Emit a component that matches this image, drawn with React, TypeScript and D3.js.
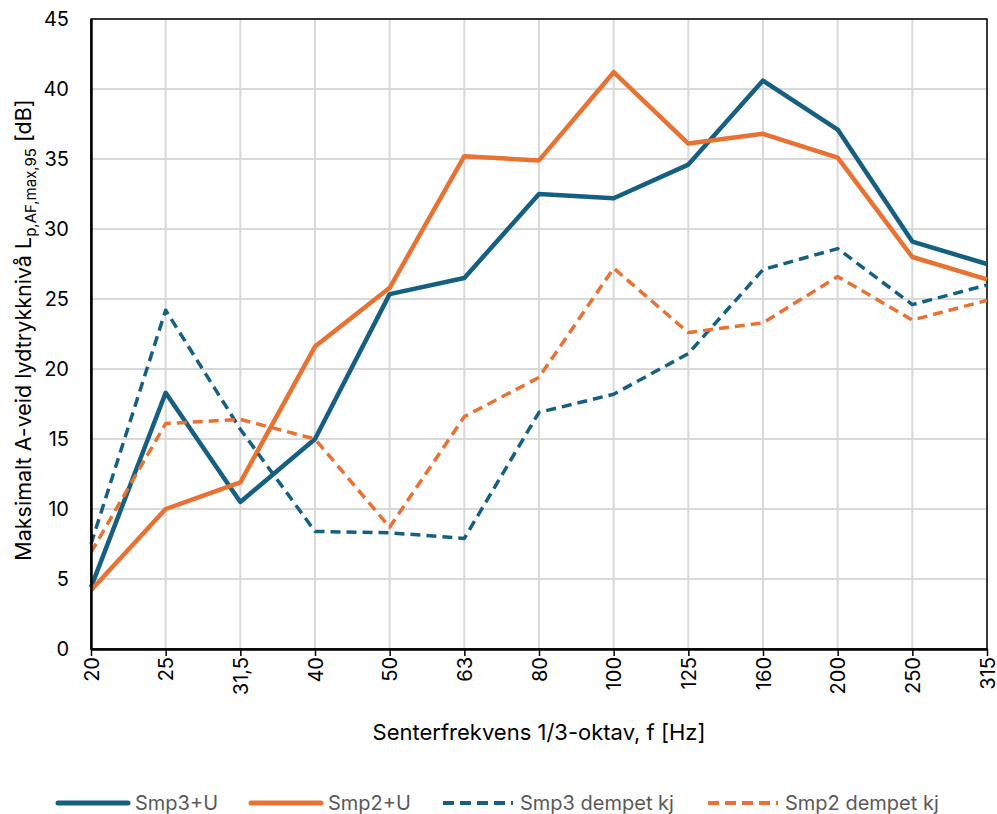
import React, { useEffect, useRef } from 'react';
import * as d3 from 'd3';

// Tersfrekvenser (Hz)
const categories = ['20', '25', '31,5', '40', '50', '63', '80', '100', '125', '160', '200', '250', '315'];

// Måleserier [dB]
const smp3U = [4.4, 18.3, 10.5, 15.0, 25.35, 26.5, 32.5, 32.2, 34.6, 40.6, 37.1, 29.1, 27.5];
const smp2U = [4.2, 10.0, 11.9, 21.6, 25.8, 35.2, 34.9, 41.2, 36.1, 36.8, 35.1, 28.0, 26.4];
const smp3Dempet = [7.5, 24.2, 15.7, 8.4, 8.3, 7.9, 16.9, 18.2, 21.1, 27.1, 28.6, 24.6, 26.0];
const smp2Dempet = [6.9, 16.1, 16.4, 15.0, 8.7, 16.6, 19.4, 27.2, 22.6, 23.3, 26.6, 23.5, 24.9];

const yTicks = [0, 5, 10, 15, 20, 25, 30, 35, 40, 45];

const series = [
  { name: 'Smp3+U', values: smp3U, color: '#156082', dashed: false },
  { name: 'Smp2+U', values: smp2U, color: '#E97132', dashed: false },
  { name: 'Smp3 dempet kj', values: smp3Dempet, color: '#156082', dashed: true },
  { name: 'Smp2 dempet kj', values: smp2Dempet, color: '#E97132', dashed: true },
];

const font = 'Inter, "Liberation Sans", sans-serif';

const App = () => {
  const ref = useRef<SVGSVGElement>(null);

  useEffect(() => {
    const width = 997;
    const height = 814;
    const left = 91, right = 987, top = 19, bottom = 649;

    const svg = d3.select(ref.current);
    svg.selectAll('*').remove();

    const x = d3.scalePoint<string>().domain(categories).range([left, right]);
    const y = d3.scaleLinear().domain([0, 45]).range([bottom, top]);

    // gridlines
    svg.append('g')
      .selectAll('line.h')
      .data(yTicks.slice(1))
      .join('line')
        .attr('x1', left).attr('x2', right)
        .attr('y1', d => y(d)).attr('y2', d => y(d))
        .attr('stroke', '#d9d9d9').attr('stroke-width', 2);
    svg.append('g')
      .selectAll('line.v')
      .data(categories.slice(1))
      .join('line')
        .attr('x1', d => x(d)!).attr('x2', d => x(d)!)
        .attr('y1', top).attr('y2', bottom)
        .attr('stroke', '#d9d9d9').attr('stroke-width', 2);

    // plot frame
    svg.append('rect')
      .attr('x', left).attr('y', top)
      .attr('width', right - left).attr('height', bottom - top)
      .attr('fill', 'none').attr('stroke', '#000').attr('stroke-width', 1.5);

    // lines
    const line = d3.line<number>()
      .x((_, i) => x(categories[i])!)
      .y(d => y(d));

    series.forEach(s => {
      svg.append('path')
        .datum(s.values)
        .attr('d', line)
        .attr('fill', 'none')
        .attr('stroke', s.color)
        .attr('stroke-width', s.dashed ? 3.5 : 4.5)
        .attr('stroke-linejoin', 'round')
        .attr('stroke-dasharray', s.dashed ? '10,6' : null);
    });

    // axes
    const xAxis = svg.append('g')
      .attr('transform', `translate(0,${bottom})`)
      .call(d3.axisBottom(x).tickSize(7).tickSizeOuter(0).tickPadding(6));
    xAxis.select('.domain').attr('stroke', '#000').attr('stroke-width', 2.5);
    xAxis.selectAll('.tick line').attr('stroke', '#000').attr('stroke-width', 1.5);
    xAxis.selectAll('.tick text')
      .attr('font-family', font)
      .attr('font-size', 20)
      .attr('fill', '#000')
      .style('text-anchor', 'end')
      .attr('transform', 'rotate(-90)')
      .attr('x', -8)
      .attr('y', 0)
      .attr('dy', '0.35em');

    const yAxis = svg.append('g')
      .attr('transform', `translate(${left},0)`)
      .call(d3.axisLeft(y).tickValues(yTicks).tickSize(0).tickPadding(22));
    yAxis.select('.domain').attr('stroke', '#000').attr('stroke-width', 2.5);
    yAxis.selectAll('.tick text')
      .attr('font-family', font)
      .attr('font-size', 20)
      .attr('fill', '#000');

    // axis titles
    svg.append('text')
      .attr('x', (left + right) / 2)
      .attr('y', 740)
      .attr('text-anchor', 'middle')
      .attr('font-family', font)
      .attr('font-size', 22)
      .attr('fill', '#000')
      .text('Senterfrekvens 1/3-oktav, f [Hz]');

    const yTitle = svg.append('text')
      .attr('transform', `translate(31,${(top + bottom) / 2 - 4}) rotate(-90)`)
      .attr('text-anchor', 'middle')
      .attr('font-family', font)
      .attr('font-size', 21.5)
      .attr('fill', '#000');
    yTitle.append('tspan').text('Maksimalt A-veid lydtrykknivå L');
    yTitle.append('tspan').attr('font-size', 15).attr('dy', 5).text('p,AF,max,95');
    yTitle.append('tspan').attr('dy', -5).text(' [dB]');

    // legend
    const legendX = [58, 251, 443, 708];
    const legendY = 803;
    const lg = svg.append('g')
      .selectAll('g')
      .data(series)
      .join('g')
        .attr('transform', (_, i) => `translate(${legendX[i]},${legendY})`);
    lg.append('line')
      .attr('x1', 0).attr('x2', 70)
      .attr('y1', 0).attr('y2', 0)
      .attr('stroke', d => d.color)
      .attr('stroke-width', d => d.dashed ? 4 : 5)
      .attr('stroke-linecap', d => d.dashed ? 'butt' : 'round')
      .attr('stroke-dasharray', d => d.dashed ? '11,6' : null);
    lg.append('text')
      .attr('x', 77)
      .attr('y', 0)
      .attr('dy', '0.35em')
      .attr('font-family', font)
      .attr('font-size', 20)
      .attr('fill', '#595959')
      .text(d => d.name);

    svg.attr('width', width).attr('height', height);
  }, []);

  return (
    <svg
      ref={ref}
      width={997}
      height={814}
      style={{ position: 'absolute', left: 0, top: 0, background: '#fff' }}
    />
  );
};

export default App;
